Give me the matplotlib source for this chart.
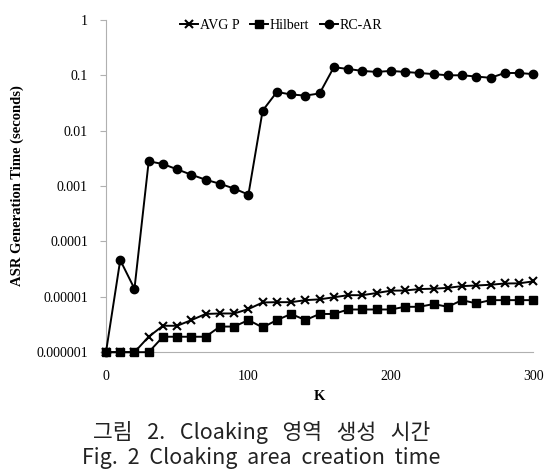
import matplotlib
matplotlib.use("Agg")
import matplotlib.pyplot as plt
from matplotlib.ticker import FixedLocator, FixedFormatter

k_values = list(range(0, 301, 10))

avg_p = [1e-6, 1e-6, 1e-6, 1.9e-6, 3.0e-6, 3.0e-6, 3.8e-6, 4.9e-6, 5.0e-6, 5.0e-6,
         6.0e-6, 7.9e-6, 8.0e-6, 8.0e-6, 8.7e-6, 9.0e-6, 9.8e-6, 1.07e-5, 1.07e-5, 1.17e-5,
         1.29e-5, 1.3e-5, 1.38e-5, 1.4e-5, 1.45e-5, 1.56e-5, 1.6e-5, 1.65e-5, 1.74e-5, 1.75e-5,
         1.9e-5]

hilbert = [1e-6, 1e-6, 1e-6, 1e-6, 1.9e-6, 1.9e-6, 1.9e-6, 1.9e-6, 2.9e-6, 2.9e-6,
           3.8e-6, 2.8e-6, 3.8e-6, 4.9e-6, 3.8e-6, 4.9e-6, 4.9e-6, 5.9e-6, 5.9e-6, 5.9e-6,
           5.9e-6, 6.6e-6, 6.6e-6, 7.4e-6, 6.6e-6, 8.7e-6, 7.6e-6, 8.7e-6, 8.7e-6, 8.7e-6,
           8.7e-6]

rc_ar = [1e-6, 4.6e-5, 1.4e-5, 2.8e-3, 2.5e-3, 2.0e-3, 1.6e-3, 1.3e-3, 1.1e-3, 9.0e-4,
         7.0e-4, 2.3e-2, 5.0e-2, 4.5e-2, 4.3e-2, 4.7e-2, 0.14, 0.13, 0.12, 0.115,
         0.12, 0.115, 0.11, 0.105, 0.1, 0.1, 0.095, 0.09, 0.11, 0.11,
         0.105]

y_ticks = [1e-6, 1e-5, 1e-4, 1e-3, 1e-2, 1e-1, 1]
y_tick_labels = ["0.000001", "0.00001", "0.0001", "0.001", "0.01", "0.1", "1"]
x_ticks = [0, 100, 200, 300]

serif = "Liberation Serif"
cjk = ['Noto Sans CJK KR', 'DejaVu Sans']

fig = plt.figure(figsize=(5.52, 4.74), dpi=100)
ax = fig.add_axes([0.192, 0.257, 0.774, 0.701])

ax.plot(k_values, avg_p, '-', color='k', lw=1.4, marker='x', ms=6, mew=1.5,
        label='AVG P', clip_on=False, zorder=3)
ax.plot(k_values, hilbert, '-', color='k', lw=1.4, marker='s', ms=6,
        label='Hilbert', clip_on=False, zorder=3)
ax.plot(k_values, rc_ar, '-', color='k', lw=1.4, marker='o', ms=6,
        label='RC-AR', clip_on=False, zorder=3)

ax.set_yscale('log')
ax.set_ylim(1e-6, 1)
ax.set_xlim(0, 300)
ax.yaxis.set_major_locator(FixedLocator(y_ticks))
ax.yaxis.set_major_formatter(FixedFormatter(y_tick_labels))
ax.yaxis.set_minor_locator(FixedLocator([]))
ax.set_xticks(x_ticks)

for side in ['top', 'right']:
    ax.spines[side].set_visible(False)
for side in ['left', 'bottom']:
    ax.spines[side].set_color('#b0b0b0')
    ax.spines[side].set_linewidth(0.8)

ax.tick_params(axis='y', length=4, color='#b0b0b0', labelsize=10, pad=9)
ax.tick_params(axis='x', length=0, labelsize=10, pad=13)
for lab in ax.get_xticklabels() + ax.get_yticklabels():
    lab.set_fontfamily(serif)

ax.set_ylabel("ASR Generation Time (seconds)", fontfamily=serif, fontweight='bold',
              fontsize=10.5, labelpad=9)
ax.set_xlabel("K", fontfamily=serif, fontweight='bold', fontsize=10.5, labelpad=5)

ax.legend(loc='upper center', bbox_to_anchor=(0.41, 1.04), ncol=3, frameon=False,
          prop={'family': serif, 'size': 10}, handlelength=1.3, handletextpad=0.1,
          columnspacing=0.8)

fig.text(0.474, 0.088, "그림   2.   Cloaking   영역   생성   시간", ha='center', va='center',
         fontsize=15.5, family=cjk, color='#222222')
fig.text(0.474, 0.034, "Fig.  2  Cloaking  area  creation  time", ha='center', va='center',
         fontsize=15.5, family=cjk, color='#222222')

fig.savefig("out.png", dpi=100)
